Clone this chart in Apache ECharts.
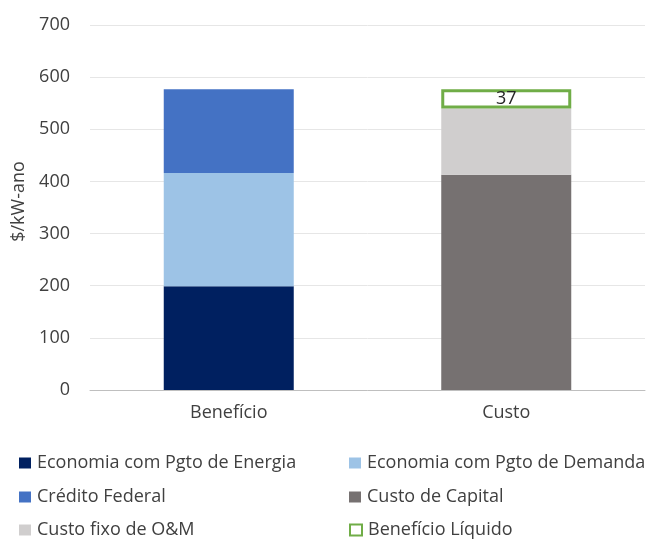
<!DOCTYPE html>
<html>
<head>
<meta charset="utf-8">
<script src="https://cdn.jsdelivr.net/npm/echarts@6/dist/echarts.min.js"></script>
<style>
  html, body { margin: 0; padding: 0; background: #ffffff; }
  #chart { width: 649px; height: 542px; }
</style>
</head>
<body>
<div id="chart"></div>
<script>
// Categories and stacked components ($/kW-ano)
const categories = ['Benefício', 'Custo'];
const seriesNames = [
  'Economia com Pgto de Energia',
  'Economia com Pgto de Demanda',
  'Crédito Federal',
  'Custo de Capital',
  'Custo fixo de O&M',
  'Benefício Líquido'
];
const energia   = [199, null];
const demanda   = [217, null];
const credito   = [161, null];
const capital   = [null, 413];
const omFixo    = [null, 127];
const liquido   = [null, 37];

const yTicks = { min: 0, max: 700, interval: 100 };

const FONT = 'Open Sans';
const FS = 18;
const TEXT = '#404040';

const colors = ['#002060', '#9DC3E6', '#4472C4', '#767171', '#D0CECE', '#FFFFFF'];
const valuesList = [energia, demanda, credito, capital, omFixo, liquido];

const series = seriesNames.map((name, i) => {
  const s = {
    name: name,
    type: 'bar',
    stack: 'total',
    barWidth: 130,
    data: valuesList[i],
    itemStyle: { color: colors[i] },
    emphasis: { disabled: true }
  };
  if (name === 'Benefício Líquido') {
    s.itemStyle = { color: '#FFFFFF', borderColor: '#70AD47', borderWidth: 3 };
    s.label = {
      show: true,
      position: 'inside',
      color: '#262626',
      fontFamily: FONT,
      fontSize: FS,
      formatter: p => p.value
    };
  }
  return s;
});

// Legend laid out as two columns of three rows
const rowTops = [454, 488, 521];
const colLefts = [19, 349];
const legends = seriesNames.map((name, i) => ({
  data: [name === 'Benefício Líquido'
    ? { name: name, itemStyle: { color: '#FFFFFF', borderColor: '#70AD47', borderWidth: 2 } }
    : name],
  left: colLefts[i % 2],
  top: rowTops[Math.floor(i / 2)],
  itemWidth: 12,
  itemHeight: 11,
  itemGap: 6,
  icon: 'rect',
  selectedMode: false,
  padding: 0,
  textStyle: { fontFamily: FONT, fontSize: FS, color: TEXT, padding: [0, 0, 0, 1] }
}));

const chart = echarts.init(document.getElementById('chart'), null, { renderer: 'canvas' });
chart.setOption({
  animation: false,
  backgroundColor: '#ffffff',
  grid: { left: 90, right: 4, top: 25, bottom: 152, containLabel: false },
  xAxis: {
    type: 'category',
    data: categories,
    axisLine: { lineStyle: { color: '#BFBFBF', width: 1 } },
    axisTick: { show: false },
    axisLabel: { fontFamily: FONT, fontSize: FS, color: TEXT, margin: 14 }
  },
  yAxis: {
    type: 'value',
    min: yTicks.min,
    max: yTicks.max,
    interval: yTicks.interval,
    name: '$/kW-ano',
    nameLocation: 'middle',
    nameGap: 62,
    nameTextStyle: { fontFamily: FONT, fontSize: FS, color: TEXT, padding: [0, 0, 0, 12] },
    axisLine: { show: false },
    axisTick: { show: false },
    splitLine: { lineStyle: { color: '#E6E6E6', width: 1 } },
    axisLabel: { fontFamily: FONT, fontSize: FS, color: TEXT, margin: 20 }
  },
  legend: legends,
  series: series
});
</script>
</body>
</html>
